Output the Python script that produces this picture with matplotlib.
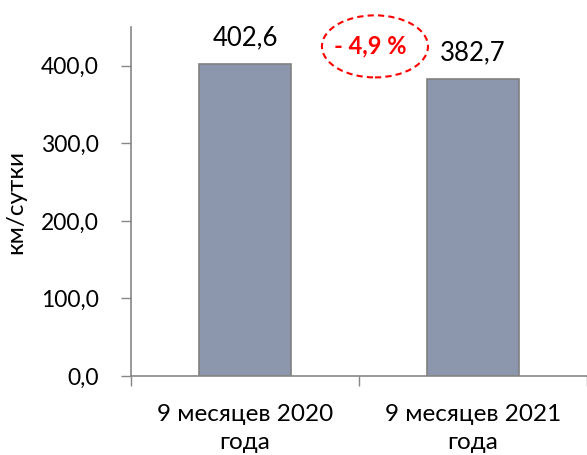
import numpy as np
import matplotlib.pyplot as plt
from matplotlib.patches import Ellipse

plt.rcParams['font.family'] = ['Lato', 'DejaVu Sans']

# data
periods = ['9 месяцев 2020\nгода', '9 месяцев 2021\nгода']
values = [402.6, 382.7]
change_label = '- 4,9 %'
y_ticks = [0, 100, 200, 300, 400]

fig = plt.figure(figsize=(5.87, 4.55), dpi=100)
ax = fig.add_axes([131 / 587, 79 / 455, 456 / 587, 349 / 455])

x = np.arange(len(values))
ax.bar(x, values, width=0.4, color='#8C96AD', edgecolor='#808080', linewidth=1.2, zorder=2)

for xi, v in zip(x, values):
    ax.text(xi, v + 24, f'{v:.1f}'.replace('.', ','), ha='center', va='baseline',
            fontsize=18.5, color='black')

ax.set_xlim(-0.5, len(values) - 0.5)
ax.set_ylim(0, 450)

ax.set_yticks(y_ticks)
ax.set_yticklabels([f'{t:.1f}'.replace('.', ',') for t in y_ticks], fontsize=16.5)
ax.tick_params(axis='y', length=7, width=1, color='#868686', pad=16)

# category ticks sit between groups
ax.set_xticks(x)
ax.set_xticklabels(periods, fontsize=17.5, linespacing=1.45)
ax.set_xticks(np.arange(len(values) + 1) - 0.5, minor=True)
ax.tick_params(axis='x', which='major', length=0, pad=20)
ax.tick_params(axis='x', which='minor', length=7, width=1, color='#868686')

for side in ['top', 'right']:
    ax.spines[side].set_visible(False)
for side in ['left', 'bottom']:
    ax.spines[side].set_color('#868686')
    ax.spines[side].set_linewidth(1.2)

ax.set_ylabel('км/сутки', fontsize=17.5)
ax.yaxis.set_label_coords(-0.23, 0.5)

# change marker between the bars
ax.add_patch(Ellipse((0.57, 425), 0.465, 80, fill=False, edgecolor='#FF0000',
                     linestyle=(0, (3, 2)), linewidth=1.5, clip_on=False, zorder=3))
ax.text(0.548, 425, change_label, ha='center', va='center', fontsize=17,
        fontweight='bold', color='#FF0000')

fig.savefig('out.png', dpi=100)
